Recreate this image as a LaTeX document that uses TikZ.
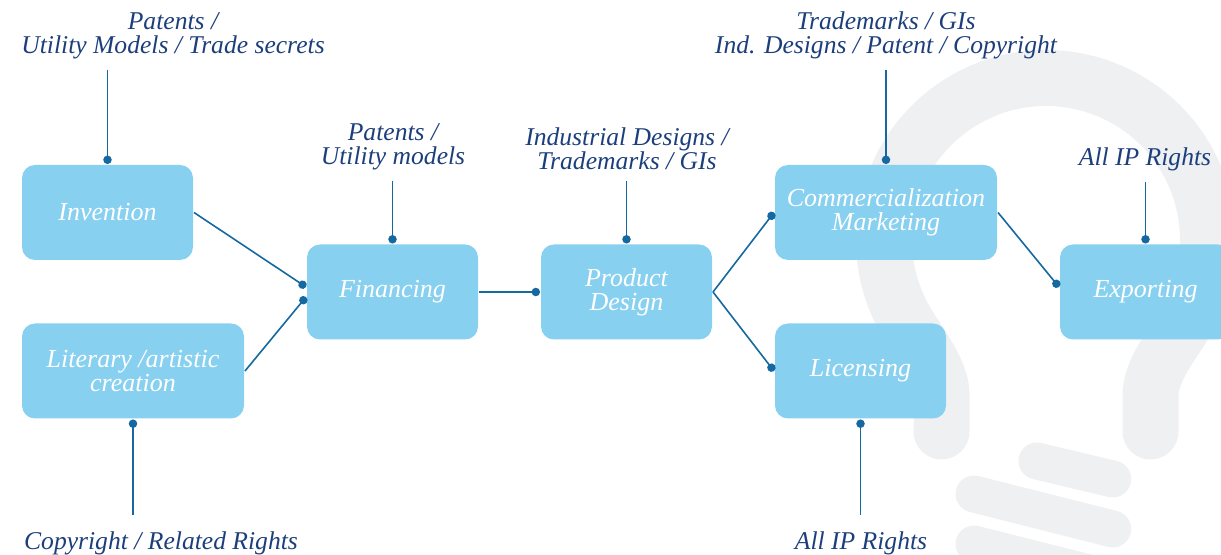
\documentclass[tikz,border=0pt]{standalone}
\usepackage{fontspec}
\setmainfont{Liberation Serif}
\usetikzlibrary{arrows.meta}
\definecolor{boxblue}{HTML}{88D0F0}
\definecolor{linkblue}{HTML}{1569A0}
\definecolor{navy}{HTML}{1C3F7C}
\definecolor{bulbgray}{HTML}{EFF0F2}
\begin{document}
\begin{tikzpicture}[x=0.5pt,y=-0.5pt,
   box/.style={fill=boxblue,rounded corners=6.5pt,minimum width=85.5pt,minimum height=47.5pt,
     text=white,font=\itshape\fontsize{13}{12}\selectfont,align=center,inner sep=2pt,outer sep=0.5pt},
   widebox/.style={box,minimum width=111pt},
   lbl/.style={text=navy,font=\itshape\fontsize{12.8}{12.2}\selectfont,align=center,inner sep=0pt,outer sep=5.5pt},
   link/.style={linkblue,line width=0.8pt},
   dotend/.style={link,-{Circle[length=4.2pt]}},
   dotstart/.style={link,{Circle[length=4.2pt]}-}]
   \useasboundingbox (0,0) rectangle (1221,555);
   % light bulb in the background
   \begin{scope}[bulbgray,line cap=round]
    \draw[line width=28pt] (941.5,431.5) -- (941.5,395)
      .. controls (941.5,370) and (918.2,342.7) .. (905.7,321)
      arc[start angle=150,end angle=390,radius=162]
      .. controls (1173.8,342.7) and (1150.5,370) .. (1150.5,395) -- (1150.5,431.5);
    \draw[line width=18.5pt] (1037,461) -- (1112.7,479);
    \draw[line width=18.5pt] (974,494) -- (1112.7,529);
    \draw[line width=18.5pt] (974,544) -- (1112.7,579);
   \end{scope}
   % stages
   \node[box] (inv) at (107.5,212.5) {Invention};
   \node[widebox] (lit) at (133,371) {Literary /artistic\\creation};
   \node[box] (fin) at (392.5,292) {Financing};
   \node[box] (pd) at (626.5,292) {Product\\Design};
   \node[widebox] (com) at (886,212.5) {Commercialization\\Marketing};
   \node[box] (lic) at (860.5,371) {Licensing};
   \node[box] (exp) at (1145.5,292) {Exporting};
   % rights
   \node[lbl,anchor=south] (invl) at (173,70) {Patents /\\Utility Models / Trade secrets};
   \node[lbl,anchor=north,outer sep=8.5pt] (litl) at (161,515) {Copyright / Related Rights};
   \node[lbl,anchor=south] (finl) at (393,181) {Patents /\\Utility models};
   \node[lbl,anchor=south] (pdl) at (627,181) {Industrial Designs /\\Trademarks / GIs};
   \node[lbl,anchor=south] (coml) at (886,70) {Trademarks / GIs\\Ind. Designs / Patent / Copyright};
   \node[lbl,anchor=north,outer sep=8.5pt] (licl) at (861,515) {All IP Rights};
   \node[lbl,anchor=south] (expl) at (1145,182) {All IP Rights};
   % links
   \draw[dotend] (invl.south -| inv.north) -- (inv.north);
   \draw[dotend] (finl.south -| fin.north) -- (fin.north);
   \draw[dotend] (pdl.south -| pd.north) -- (pd.north);
   \draw[dotend] (coml.south -| com.north) -- (com.north);
   \draw[dotend] (expl.south -| exp.north) -- (exp.north);
   \draw[dotstart] (lit.south) -- (litl.north -| lit.south);
   \draw[dotstart] (lic.south) -- (licl.north -| lic.south);
   \draw[dotend] (inv.east) -- ([yshift=2.5pt]fin.west);
   \draw[dotend] (lit.east) -- ([yshift=-2.5pt]fin.west);
   \draw[dotend] (fin.east) -- (pd.west);
   \draw[dotend] (pd.east) -- (com.west);
   \draw[dotend] (pd.east) -- (lic.west);
   \draw[dotend] (com.east) -- ([yshift=2.5pt]exp.west);
\end{tikzpicture}
\end{document}
